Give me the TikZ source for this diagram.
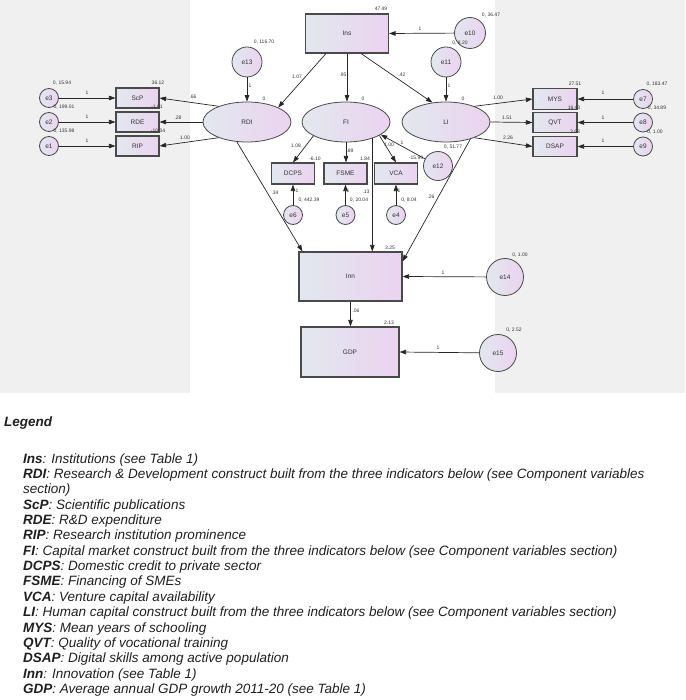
\documentclass[tikz,border=0pt]{standalone}
\usepackage{fontspec}
\setmainfont{Liberation Sans}
\usetikzlibrary{arrows.meta,calc,shapes.geometric}
\definecolor{bggray}{HTML}{F0F0F0}
\definecolor{nleft}{HTML}{E2E8EE}
\definecolor{nright}{HTML}{EBD3F0}
\definecolor{nborder}{HTML}{4A4A4A}
\definecolor{lnk}{HTML}{262626}
\definecolor{txt}{HTML}{333333}
\begin{document}
\begin{tikzpicture}[x=1pt,y=-1pt,
  grad/.style={left color=nleft,right color=nright,draw=nborder},
  obsbox/.style={grad,rectangle,line width=1.1pt,inner sep=0pt,text=txt,font=\fontsize{6.5}{7}\selectfont},
  ind/.style={obsbox,minimum width=43pt,minimum height=20pt},
  latent/.style={grad,ellipse,line width=0.8pt,minimum width=88pt,minimum height=40pt,inner sep=0pt,text=txt,font=\fontsize{6.5}{7}\selectfont},
  err/.style={grad,circle,line width=0.8pt,inner sep=0pt,text=txt,font=\fontsize{6.5}{7}\selectfont},
  num/.style={font=\fontsize{5}{6}\selectfont,inner sep=0pt,text=txt},
  arr/.style={draw=lnk,line width=0.7pt,-{Triangle[length=6.5pt,width=4.5pt]}},
  leg/.style={anchor=west,inner sep=0pt,text=black!88,font=\fontsize{13.5}{15}\selectfont\itshape}
]
\useasboundingbox (0,0) rectangle (685,700);
\fill[bggray] (0,0) rectangle (190,393);
\fill[bggray] (495,0) rectangle (685,393);

% nodes
\node[obsbox,minimum width=83pt,minimum height=39pt] (Ins) at (347,33.5) {Ins};
\node[err,minimum size=31pt] (e10) at (470,33) {e10};
\node[err,minimum size=30pt] (e13) at (247,62) {e13};
\node[err,minimum size=30pt] (e11) at (446,62) {e11};
\node[latent] (RDI) at (247,122) {RDI};
\node[latent] (FI) at (346,122) {FI};
\node[latent] (LI) at (446,122) {LI};
\node[ind] (ScP) at (137.5,98) {ScP};
\node[ind] (RDE) at (137.5,122) {RDE};
\node[ind] (RIP) at (137.5,146) {RIP};
\node[err,minimum size=19pt] (e3) at (49,98) {e3};
\node[err,minimum size=19pt] (e2) at (49,122) {e2};
\node[err,minimum size=19pt] (e1) at (49,146) {e1};
\node[ind,minimum width=44pt,minimum height=20.5pt] (MYS) at (555,99) {MYS};
\node[ind,minimum width=44pt,minimum height=20.5pt] (QVT) at (555,122.5) {QVT};
\node[ind,minimum width=44pt,minimum height=20.5pt] (DSAP) at (555,146.5) {DSAP};
\node[err,minimum size=19pt] (e7) at (643,99) {e7};
\node[err,minimum size=19pt] (e8) at (643,122.5) {e8};
\node[err,minimum size=19pt] (e9) at (643,146.5) {e9};
\node[ind,minimum height=21pt] (DCPS) at (293,173.5) {DCPS};
\node[ind,minimum height=21pt] (FSME) at (345.5,173.5) {FSME};
\node[ind,minimum height=21pt] (VCA) at (396,173.5) {VCA};
\node[err,minimum size=19pt] (e6) at (293,215) {e6};
\node[err,minimum size=19pt] (e5) at (345.5,215) {e5};
\node[err,minimum size=19pt] (e4) at (396,215) {e4};
\node[err,minimum size=29pt] (e12) at (438,166) {e12};
\node[obsbox,minimum width=103pt,minimum height=49pt] (Inn) at (350.5,276.5) {Inn};
\node[err,minimum size=37pt] (e14) at (505,277) {e14};
\node[obsbox,minimum width=98pt,minimum height=50pt] (GDP) at (350,352) {GDP};
\node[err,minimum size=37pt] (e15) at (498,353) {e15};

% connectors
\draw[arr] (e10) -- (Ins.east);
\draw[arr] ($(Ins.south west)+(21,0)$) -- (RDI.25);
\draw[arr] (Ins.south) -- (Ins.south |- FI.north);
\draw[arr] ($(Ins.south east)+(-28,0)$) -- (LI.125);
\draw[arr] (e13) -- (RDI.north);
\draw[arr] (e11) -- (LI.north);
\draw[arr] (RDI.151) -- (ScP.east);
\draw[arr] (RDI.west) -- (RDE.east);
\draw[arr] (RDI.209) -- (RIP.east);
\draw[arr] (LI.29) -- (MYS.west);
\draw[arr] (LI.east) -- (QVT.west);
\draw[arr] (LI.331) -- (DSAP.west);
\draw[arr] (e3) -- (ScP.west);
\draw[arr] (e2) -- (RDE.west);
\draw[arr] (e1) -- (RIP.west);
\draw[arr] (e7) -- (MYS.east);
\draw[arr] (e8) -- (QVT.east);
\draw[arr] (e9) -- (DSAP.east);
\draw[arr] (FI.203) -- (DCPS.north);
\draw[arr] (FI.south) -- (FI.south |- FSME.north);
\draw[arr] (FI.338) -- (VCA.north);
\draw[arr] (e12) -- (FI.340);
\draw[arr] (e6) -- (DCPS.south);
\draw[arr] (e5) -- (FSME.south);
\draw[arr] (e4) -- (VCA.south);
\draw[arr] (FI.328) -- (FI.328 |- Inn.north);
\draw[arr] (RDI.243) -- ($(Inn.north west)+(4,0)$);
\draw[arr] (LI.325) -- ($(Inn.north east)+(0,10)$);
\draw[arr] (e14) -- (Inn.east);
\draw[arr] (Inn.south) -- (Inn.south |- GDP.north);
\draw[arr] (e15) -- (GDP.east);

% numbers
\node[num] (n1) at (381,9) {47.49};
\node[num] (n2) at (491,15) {0, 36.47};
\node[num] (n3) at (420,29) {1};
\node[num] (n4) at (264,42) {0, 116.70};
\node[num] (n5) at (460,43) {0, 8.20};
\node[num] (n6) at (297,77) {1.07};
\node[num] (n7) at (343,75) {.95};
\node[num] (n8) at (402,75) {.42};
\node[num] (n9) at (250,86) {1};
\node[num] (n10) at (449,86) {1};
\node[num] (n11) at (264,99) {0};
\node[num] (n12) at (363,99) {0};
\node[num] (n13) at (463,99) {0};
\node[num] (n14) at (62,83) {0, 15.94};
\node[num] (n15) at (64,107) {0, 199.01};
\node[num] (n16) at (64,131) {0, 135.98};
\node[num] (n17) at (158,83) {36.12};
\node[num] (n18) at (157,107) {-1.01};
\node[num] (n19) at (158,131) {-10.04};
\node[num] (n20) at (87,93) {1};
\node[num] (n21) at (87,117) {1};
\node[num] (n22) at (87,141) {1};
\node[num] (n23) at (193,97) {.66};
\node[num] (n24) at (178,118) {.28};
\node[num] (n25) at (185,138) {1.00};
\node[num] (n26) at (498,98) {1.00};
\node[num] (n27) at (507,118) {1.51};
\node[num] (n28) at (508,138) {2.26};
\node[num] (n29) at (575,84) {27.51};
\node[num] (n30) at (574,108) {16.43};
\node[num] (n31) at (575,132) {3.63};
\node[num] (n32) at (657,84) {0, 183.47};
\node[num] (n33) at (657,108) {0, 34.89};
\node[num] (n34) at (655,132) {0, 1.00};
\node[num] (n35) at (603,93) {1};
\node[num] (n36) at (603,118) {1};
\node[num] (n37) at (603,141) {1};
\node[num] (n38) at (296,146) {1.08};
\node[num] (n39) at (350,151) {.89};
\node[num] (n40) at (389,145) {1.00};
\node[num] (n41) at (402,143) {1};
\node[num] (n42) at (315,159) {-6.10};
\node[num] (n43) at (365,159) {1.84};
\node[num] (n44) at (416,158) {-15.99};
\node[num] (n45) at (453,147) {0, 51.77};
\node[num] (n46) at (297,191) {1};
\node[num] (n47) at (348,191) {1};
\node[num] (n48) at (399,191) {1};
\node[num] (n49) at (309,200) {0, 442.39};
\node[num] (n50) at (359,200) {0, 20.04};
\node[num] (n51) at (409,200) {0, 8.04};
\node[num] (n52) at (275,193) {.34};
\node[num] (n53) at (366,192) {.13};
\node[num] (n54) at (431,197) {.26};
\node[num] (n55) at (390,248) {3.25};
\node[num] (n56) at (520,255) {0, 1.00};
\node[num] (n57) at (443,273) {1};
\node[num] (n58) at (356,311) {.06};
\node[num] (n59) at (389,323) {2.13};
\node[num] (n60) at (514,330) {0, 2.52};
\node[num] (n61) at (438,348) {1};

% legend
\node[leg] (L0) at (4,423) {\textbf{Legend}};
\node[leg] (L1) at (23,460) {\textbf{Ins}: Institutions (see Table 1)};
\node[leg] (L2) at (23,475) {\textbf{RDI}: Research \& Development construct built from the three indicators below (see Component variables};
\node[leg] (L3) at (23,490) {section)};
\node[leg] (L4) at (23,506) {\textbf{ScP}: Scientific publications};
\node[leg] (L5) at (23,521) {\textbf{RDE}: R\&D expenditure};
\node[leg] (L6) at (23,536) {\textbf{RIP}: Research institution prominence};
\node[leg] (L7) at (23,552) {\textbf{FI}: Capital market construct built from the three indicators below (see Component variables section)};
\node[leg] (L8) at (23,567) {\textbf{DCPS}: Domestic credit to private sector};
\node[leg] (L9) at (23,582) {\textbf{FSME}: Financing of SMEs};
\node[leg] (L10) at (23,598) {\textbf{VCA}: Venture capital availability};
\node[leg] (L11) at (23,613) {\textbf{LI}: Human capital construct built from the three indicators below (see Component variables section)};
\node[leg] (L12) at (23,629) {\textbf{MYS}: Mean years of schooling};
\node[leg] (L13) at (23,644) {\textbf{QVT}: Quality of vocational training};
\node[leg] (L14) at (23,659) {\textbf{DSAP}: Digital skills among active population};
\node[leg] (L15) at (23,675) {\textbf{Inn}: Innovation (see Table 1)};
\node[leg] (L16) at (23,690) {\textbf{GDP}: Average annual GDP growth 2011-20 (see Table 1)};
\end{tikzpicture}
\end{document}
